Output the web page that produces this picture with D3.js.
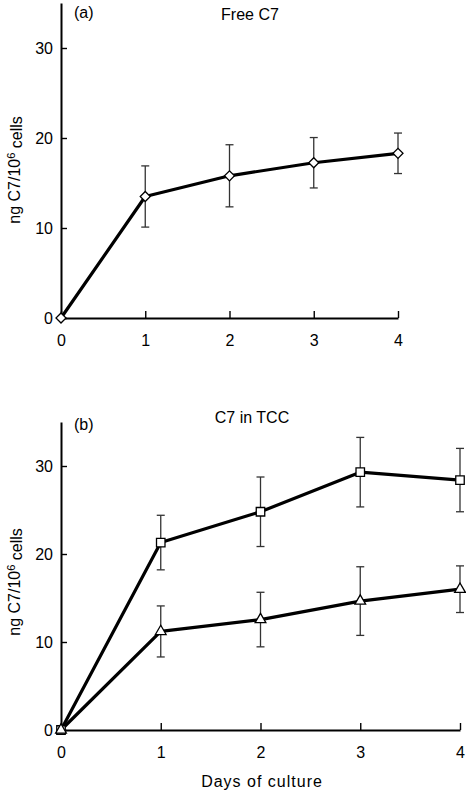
<!DOCTYPE html>
<html>
<head>
<meta charset="utf-8">
<script src="https://cdn.jsdelivr.net/npm/d3@7"></script>
<style>
  html, body { margin: 0; padding: 0; background: #fff; }
  svg { display: block; font-family: "Liberation Sans", Arial, Helvetica, sans-serif; }
</style>
</head>
<body>
<svg id="chart" width="466" height="792"></svg>
<script>
// ---- data ----
const days = [0, 1, 2, 3, 4];
const yTicks = [0, 10, 20, 30];
const xTicks = [0, 1, 2, 3, 4];

// Panel (a): Free C7 (diamonds)
const freeMean = [0, 13.5, 15.8, 17.25, 18.3];
const freeErr  = [0, 3.4, 3.45, 2.8, 2.25];

// Panel (b): C7 in TCC
const tccSquareMean = [0, 21.3, 24.8, 29.3, 28.4];
const tccSquareErr  = [0, 3.1, 3.95, 3.95, 3.6];
const tccTriMean    = [0, 11.2, 12.55, 14.65, 16.0];
const tccTriErr     = [0, 2.9, 3.1, 3.9, 2.65];

const svg = d3.select("#chart");

function panel(cfg) {
  const x = d3.scaleLinear().domain([0, 4]).range([cfg.x0, cfg.x1]);
  const y = d3.scaleLinear().domain([0, 35]).range([cfg.y0, cfg.yTop]);
  const g = svg.append("g");

  // y axis (inward ticks)
  const ya = g.append("g").attr("transform", `translate(${cfg.x0},0)`)
    .call(d3.axisLeft(y).tickValues(yTicks).tickFormat(d3.format("d"))
      .tickSizeInner(-6).tickSizeOuter(0).tickPadding(8));
  // x axis (inward ticks)
  const xa = g.append("g").attr("transform", `translate(0,${cfg.y0})`)
    .call(d3.axisBottom(x).tickValues(xTicks).tickFormat(d3.format("d"))
      .tickSizeInner(-7).tickSizeOuter(0).tickPadding(17));
  [ya, xa].forEach(a => {
    a.select(".domain").attr("stroke", "#000").attr("stroke-width", 2);
    a.selectAll(".tick line").attr("stroke", "#000").attr("stroke-width", 1.4);
    a.selectAll(".tick text").attr("fill", "#000").style("font-size", "16px")
      .style("font-family", '"Liberation Sans", Arial, sans-serif');
  });

  // y label
  const lbl = g.append("text")
    .attr("transform", `translate(${cfg.labelX},${cfg.labelY}) rotate(-90)`)
    .attr("text-anchor", "middle")
    .style("font-size", "16px").attr("fill", "#000");
  lbl.append("tspan").text("ng C7/10");
  lbl.append("tspan").attr("dy", "-0.45em").style("font-size", "11px").text("6");
  lbl.append("tspan").attr("dy", "0.45em").text(" cells");

  // panel letter and title
  g.append("text").attr("x", cfg.x0 + 13).attr("y", cfg.letterY)
    .style("font-size", "16px").text(cfg.letter);
  g.append("text").attr("x", cfg.titleX).attr("y", cfg.titleY)
    .attr("text-anchor", "middle").style("font-size", "16px").text(cfg.title);

  const line = d3.line().x((d, i) => x(days[i])).y(d => y(d));

  cfg.series.forEach(s => {
    // error bars
    const eb = g.append("g").attr("stroke", "#333").attr("stroke-width", 1.3);
    s.mean.forEach((m, i) => {
      if (s.err[i] <= 0) return;
      const cx = x(days[i]);
      eb.append("line").attr("x1", cx).attr("x2", cx).attr("y1", y(m - s.err[i])).attr("y2", y(m + s.err[i]));
      [m - s.err[i], m + s.err[i]].forEach(v => {
        eb.append("line").attr("x1", cx - 4).attr("x2", cx + 4).attr("y1", y(v)).attr("y2", y(v));
      });
    });
  });
  cfg.series.forEach(s => {
    g.append("path").datum(s.mean).attr("d", line)
      .attr("fill", "none").attr("stroke", "#000").attr("stroke-width", 3.2).attr("stroke-linejoin", "round");
  });
  cfg.series.forEach(s => {
    const sym = d3.symbol().type(s.symbol).size(s.size);
    g.append("g").selectAll("path").data(s.mean).join("path")
      .attr("d", sym)
      .attr("transform", (d, i) => `translate(${x(days[i])},${y(d)})${s.rot ? " rotate(45)" : ""}`)
      .attr("fill", "#fff").attr("stroke", "#000").attr("stroke-width", 1.3);
  });
}

panel({
  x0: 61, x1: 398, y0: 318, yTop: 3,
  labelX: 20, labelY: 170,
  letter: "(a)", letterY: 18, title: "Free C7", titleX: 250, titleY: 20,
  series: [{ mean: freeMean, err: freeErr, symbol: d3.symbolSquare, size: 50, rot: true }]
});

panel({
  x0: 61, x1: 460, y0: 730, yTop: 422,
  labelX: 20, labelY: 582,
  letter: "(b)", letterY: 430, title: "C7 in TCC", titleX: 252, titleY: 423,
  series: [
    { mean: tccSquareMean, err: tccSquareErr, symbol: d3.symbolSquare, size: 72 },
    { mean: tccTriMean, err: tccTriErr, symbol: d3.symbolTriangle, size: 50 }
  ]
});

// x axis title
svg.append("text").attr("x", 262).attr("y", 787).attr("text-anchor", "middle")
  .style("font-size", "16px").style("letter-spacing", "1px").text("Days of culture");
</script>
</body>
</html>
